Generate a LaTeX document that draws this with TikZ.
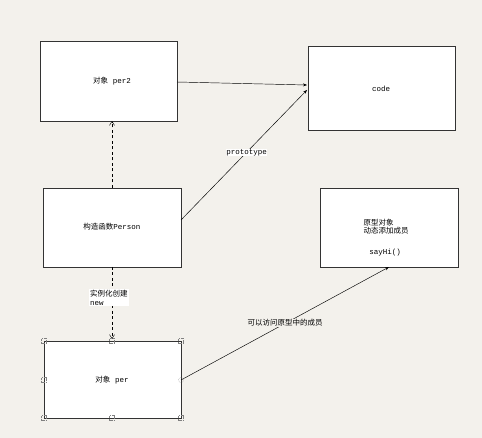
\documentclass[tikz,border=0pt]{standalone}
\usepackage{fontspec}
\setmainfont{Liberation Mono}
\newfontfamily\cjk{Noto Sans CJK SC}
\usetikzlibrary{arrows.meta}
\definecolor{paper}{HTML}{F3F1EC}
\definecolor{edge}{HTML}{333333}
\tikzset{
  box/.style={draw=edge, fill=white, line width=0.8pt, inner sep=0pt},
  lbl/.style={font=\fontsize{7.5}{9}\selectfont, text=black},
  link/.style={draw=black, line width=0.45pt, -{Stealth[length=4pt,width=3pt]}},
  dlink/.style={link, dash pattern=on 3pt off 2.5pt, -{Straight Barb[length=4pt,width=5pt]}},
  handle/.style={draw=gray, densely dotted, line width=0.4pt, minimum size=5pt, inner sep=0pt},
}
\begin{document}
\begin{tikzpicture}[x=1pt, y=-1pt]
  \fill[paper] (0,0) rectangle (482,438);
  \useasboundingbox (0,0) rectangle (482,438);

  % boxes
  \draw[box] (40,41) rectangle (177,121);
  \node[lbl] (per2) at (112,81) {{\cjk 对象} per2};
  \coordinate (per2N) at (112,121);
  \coordinate (per2E) at (177,82);

  \draw[box] (308,46) rectangle (455,130);
  \node[lbl] (code) at (381,89) {code};
  \coordinate (codeW) at (307,85);
  \coordinate (codeWl) at (307,90);

  \draw[box] (43,188) rectangle (181,267);
  \node[lbl] (person) at (112,227) {{\cjk 构造函数}Person};
  \coordinate (personN) at (112,188);
  \coordinate (personS) at (112,267);
  \coordinate (personE) at (181,220);

  \draw[box] (320,188) rectangle (458,267);
  \node[lbl, align=left, anchor=west, font=\fontsize{7.5}{8}\selectfont] (proto) at (360,227) {\cjk 原型对象\\\cjk 动态添加成员};
  \node[lbl] (sayhi) at (385,253) {sayHi()};
  \coordinate (protoS) at (389,267);

  \draw[box] (44,341) rectangle (181,418);
  \node[lbl] (per) at (112,380) {{\cjk 对象} per};
  \coordinate (perN) at (112,339);
  \coordinate (perE) at (181,380);

  % selection handles on the per box
  \foreach \hx/\hy [count=\i] in {44/341, 112/341, 181/341, 44/380, 44/418, 112/418, 181/418}
    \node[handle] (h\i) at (\hx,\hy) {};
  \node[handle, circle] (hc) at (perE) {};

  % connectors
  \draw[link] (per2E) -- (codeW);
  \draw[link] (personE) -- node[lbl, fill=white, inner sep=0.5pt, pos=0.52] (protolbl) {prototype} (codeWl);
  \draw[dlink] (personN) -- (per2N);
  \draw[dlink] (personS) -- (perN);
  \node[lbl, fill=white, align=left, anchor=north west, inner sep=1pt, font=\fontsize{7.5}{8.5}\selectfont] (newlbl) at (89,289) {\cjk 实例化创建\\new};
  \draw[link] (perE) -- (protoS);
  \node[lbl, fill=paper, inner sep=1pt] (acclbl) at (285,323) {\cjk 可以访问原型中的成员};
\end{tikzpicture}
\end{document}
